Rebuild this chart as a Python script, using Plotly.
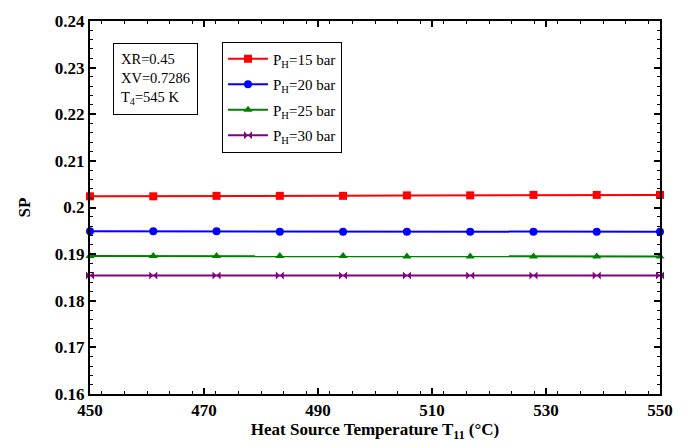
import plotly.graph_objects as go

T11 = [450, 461.1, 472.2, 483.3, 494.4, 505.6, 516.7, 527.8, 538.9, 550]
sp_15 = [0.2024, 0.2024, 0.2025, 0.2025, 0.2025, 0.2026, 0.2026, 0.2027, 0.2027, 0.2027]
sp_20 = [0.1949, 0.1949, 0.1949, 0.1948, 0.1948, 0.1948, 0.1948, 0.1948, 0.1948, 0.1948]
sp_25 = [0.1896, 0.1896, 0.1896, 0.1896, 0.1896, 0.1895, 0.1895, 0.1895, 0.1895, 0.1895]
sp_30 = [0.1854, 0.1854, 0.1854, 0.1854, 0.1854, 0.1854, 0.1854, 0.1854, 0.1854, 0.1854]

series = [
    ("P<sub>H</sub>=15 bar", sp_15, "#ff0000", "square"),
    ("P<sub>H</sub>=20 bar", sp_20, "#0000ff", "circle"),
    ("P<sub>H</sub>=25 bar", sp_25, "#008000", "triangle-up"),
    ("P<sub>H</sub>=30 bar", sp_30, "#800080", "bowtie"),
]

fig = go.Figure()
for i, (name, ys, col, sym) in enumerate(series):
    fig.add_trace(go.Scatter(x=T11, y=ys, name=name, mode="lines+markers",
                             legendgroup=f"g{i}",
                             line=dict(color=col, width=2),
                             marker=dict(symbol=sym, size=8, color=col),
                             cliponaxis=False))

fam = "Liberation Serif, Times New Roman, serif"

fig.update_layout(
    width=688, height=448,
    margin=dict(l=90, r=28, t=16, b=53),
    paper_bgcolor="white", plot_bgcolor="white",
    font=dict(family=fam, size=17, color="black"),
    legend=dict(x=0.2316, y=0.945, xanchor="left", yanchor="top",
                bordercolor="black", borderwidth=1, bgcolor="white",
                font=dict(family=fam, size=15, color="black"),
                tracegroupgap=3, itemwidth=40),
    showlegend=True,
)
fig.update_xaxes(range=[450, 550], tickmode="linear", tick0=450, dtick=20,
                 showline=True, linecolor="black", linewidth=2, mirror="ticks",
                 ticks="inside", ticklen=6, tickwidth=1.5, tickcolor="black",
                 showgrid=False, zeroline=False,
                 tickfont=dict(family=fam, size=17, color="black", weight="bold"),
                 minor_ticks="inside", minor_ticklen=3, minor_tickwidth=1, minor_dtick=4,
                 minor_tickcolor="black",
                 title_text="<b>Heat Source Temperature T<sub>11</sub> (°C)</b>",
                 title_font=dict(family=fam, size=17), title_standoff=4)
fig.update_yaxes(range=[0.16, 0.24], tickmode="linear", tick0=0.16, dtick=0.01,
                 showline=True, linecolor="black", linewidth=2, mirror="ticks",
                 ticks="inside", ticklen=6, tickwidth=1.5, tickcolor="black",
                 showgrid=False, zeroline=False,
                 tickfont=dict(family=fam, size=17, color="black", weight="bold"),
                 minor_ticks="inside", minor_ticklen=3, minor_tickwidth=1, minor_dtick=0.002,
                 minor_tickcolor="black",
                 title_text="<b>SP</b>", title_font=dict(family=fam, size=17), title_standoff=20)

fig.add_annotation(x=0.04, y=0.94, xref="paper", yref="paper", xanchor="left", yanchor="top",
                   text="XR=0.45<br>XV=0.7286<br>T<sub>4</sub>=545 K", showarrow=False, align="left",
                   font=dict(family=fam, size=14.5, color="black"),
                   bordercolor="black", borderwidth=1, borderpad=7, bgcolor="white")

fig.write_html("out.html")
